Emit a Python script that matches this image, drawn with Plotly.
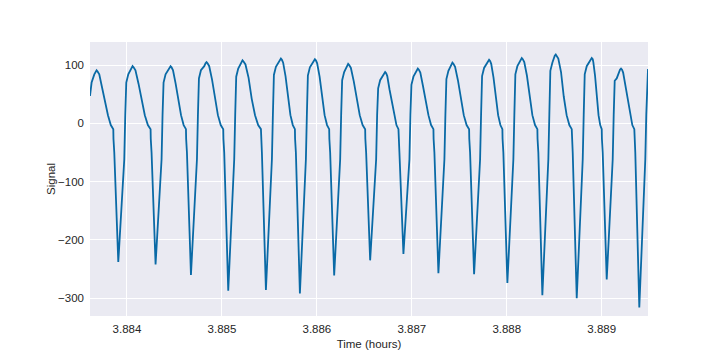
import plotly.graph_objects as go

# ---- values ----
# troughs of each beat (time in hours, signal value)
trough_t = [3.8839084, 3.8843011, 3.8846737, 3.8850663, 3.8854632, 3.8858211,
            3.8861821, 3.8865611, 3.8869116, 3.8872800, 3.8876558, 3.8880063,
            3.8883747, 3.8887368, 3.8890526, 3.8893958]
trough_v = [-238, -242, -260, -287, -286, -292, -261, -235, -224, -257, -259,
            -274, -295, -300, -268, -316]
# peaks of each beat
peak_t = [3.8836800, 3.8840589, 3.8844589, 3.8848379, 3.8852168, 3.8856211,
          3.8859789, 3.8863295, 3.8867189, 3.8870632, 3.8874274, 3.8878137,
          3.8881579, 3.8885158, 3.8888947, 3.8892032]
peak_v = [91, 98, 98, 105, 108, 111, 110, 102, 88, 94, 104, 109, 112, 118, 112, 94]
# value in the middle of the falling slope after each peak
mid_v = [38, 40, 40, 42, 42, 44, 44, 40, 36, 38, 42, 43, 44, 46, 44, 38]
# knee values on the rising slope after troughs 1..15
knee_v = [70, 70, 77, 80, 83, 82, 74, 60, 66, 76, 81, 84, 90, 84, 73]
knee2_v = [84, 84, 91, 94, 97, 96, 88, 74, 80, 90, 95, 98, 104, 98, 77]
# first samples (before the first peak) and the last sample
start_t = [3.8836105, 3.8836274]
start_v = [47, 70]
end_t = 3.8894874
end_v = 93

# beat shape details (offsets in seconds, values in signal units)
up_low_s, up_low_v = 0.227, -62          # upstroke bend
up_mid_s, up_mid_w = 0.114, 0.45         # halfway point of lower upstroke
up_s = [0.265, 0.303, 0.379]             # steep top, knee, knee2
up_top_v = 15
peak_offs_s = [-0.087, -0.038, 0.038]
peak_offs_dv = [-7, -2, -2]
desc_fracs = [0.16, 0.33, 0.5, 0.68, 0.85, 1.0]
desc_dv = [-7, -30]                      # relative to peak
desc_v_tail = [14, -3, -10]
notch_lead_s = 0.189
notch_offs_s = [-0.182, -0.174, -0.167, -0.152]
notch_v = [-27, -45, -30, -50]

H = 3600.0
pts = list(zip(start_t, start_v))
n = len(trough_t)
for i in range(n):
    P, tp = peak_v[i], peak_t[i]
    for o, dv in zip(peak_offs_s, peak_offs_dv):
        pts.append((tp + o / H, P + dv))
    pts.append((tp, P))
    L = (trough_t[i] - notch_lead_s / H) - tp
    vals = [P + d for d in desc_dv] + [mid_v[i]] + desc_v_tail
    for f, v in zip(desc_fracs, vals):
        pts.append((tp + f * L, v))
    for o, v in zip(notch_offs_s, notch_v):
        pts.append((trough_t[i] + o / H, v))
    T = trough_v[i]
    pts.append((trough_t[i], T))
    pts.append((trough_t[i] + up_mid_s / H, T + up_mid_w * (up_low_v - T)))
    pts.append((trough_t[i] + up_low_s / H, up_low_v))
    pts.append((trough_t[i] + up_s[0] / H, up_top_v))
    if i < n - 1:
        pts.append((trough_t[i] + up_s[1] / H, knee_v[i]))
        pts.append((trough_t[i] + up_s[2] / H, knee2_v[i]))
    else:
        pts.append((end_t, end_v))

pts.sort(key=lambda p: p[0])
time_h = [p[0] for p in pts]
signal = [p[1] for p in pts]

x_ticks = [3.884, 3.885, 3.886, 3.887, 3.888, 3.889]
y_ticks = [-300, -200, -100, 0, 100]

fig = go.Figure()
fig.add_trace(go.Scatter(x=time_h, y=signal, mode="lines",
                         line=dict(color="#0a6aa6", width=1.8),
                         showlegend=False, hoverinfo="skip"))

font = dict(family="Liberation Sans, Arial, sans-serif", size=11.5, color="#262626")
fig.update_layout(
    width=712, height=347,
    margin=dict(l=82, r=72, t=34, b=39),
    paper_bgcolor="white", plot_bgcolor="#EAEAF2",
    font=font,
)
fig.update_xaxes(range=[start_t[0], end_t], tickvals=x_ticks,
                 ticktext=[f"{v:.3f}" for v in x_ticks],
                 showgrid=True, gridcolor="white", gridwidth=1,
                 zeroline=False, showline=False, ticks="",
                 ticklabelstandoff=4, automargin=False,
                 title=dict(text="Time (hours)", font=dict(size=11.5), standoff=6))
fig.update_yaxes(range=[-330.5, 139.5], tickvals=y_ticks,
                 showgrid=True, gridcolor="white", gridwidth=1,
                 zeroline=False, showline=False, ticks="",
                 ticklabelstandoff=5, automargin=False,
                 title=dict(text="Signal", font=dict(size=11.5), standoff=0))

fig.write_html("out.html")
